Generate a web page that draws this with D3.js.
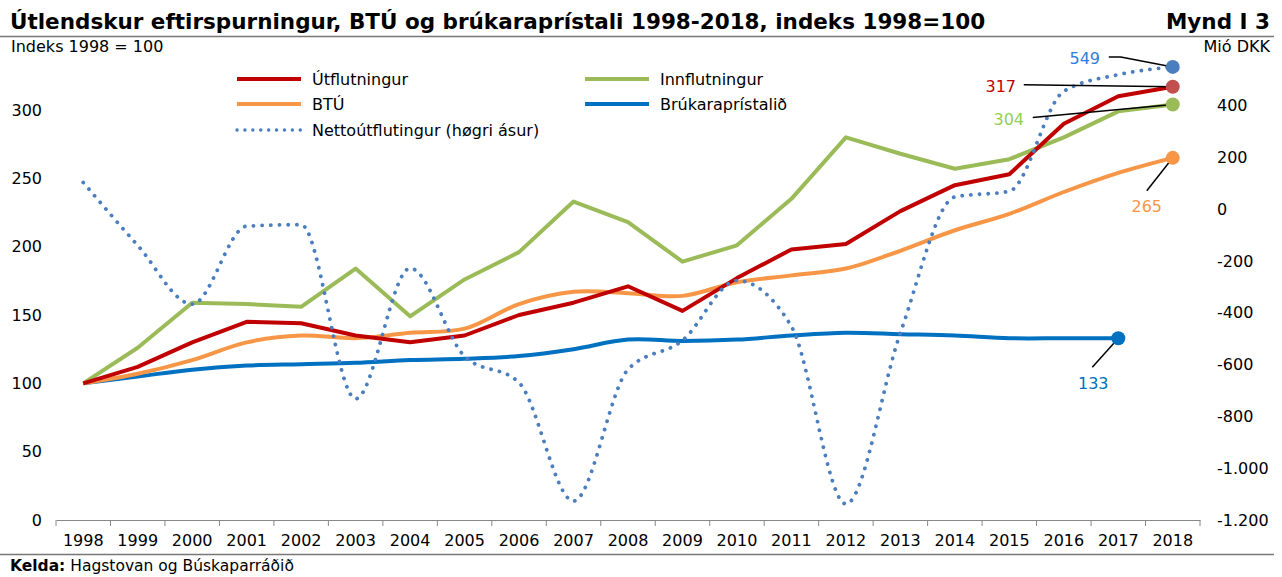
<!DOCTYPE html>
<html>
<head>
<meta charset="utf-8">
<script src="https://cdn.jsdelivr.net/npm/d3@7"></script>
<style>
  body { margin: 0; background: #fff; }
  svg { font-family: "DejaVu Sans", Verdana, sans-serif; }
</style>
</head>
<body>
<script>
// data
var years = ["1998","1999","2000","2001","2002","2003","2004","2005","2006","2007","2008",
             "2009","2010","2011","2012","2013","2014","2015","2016","2017","2018"];
var utflutningur = [100,112,130,145,144,135,130,135,150,159,171,153,177,198,202,226,245,253,290,310,317];
var innflutningur = [100,126,159,158,156,184,149,176,196,233,218,189,201,235,280,268,257,264,280,299,304];
var btu = [100,107,117,130,135,133,137,140,158,167,166,164,174,179,184,197,212,224,240,254,265];
var prisir = [100,105,110,113,114,115,117,118,120,125,132,131,132,135,137,136,135,133,133,133,null];
var netto = [103,-140,-367,-66,-60,-732,-228,-568,-670,-1127,-619,-507,-276,-453,-1138,-478,47,69,455,519,549];
var leftTicks = [0,50,100,150,200,250,300];
var rightTicks = [-1200,-1000,-800,-600,-400,-200,0,200,400];

var W = 1282, H = 577;
var FS = "16px";
var svg = d3.select("body").append("svg").attr("width", W).attr("height", H);

var x = d3.scaleBand().domain(years).range([56, 1200]).padding(0);
var cx = function(i) { return x(years[i]) + x.bandwidth() / 2; };
var yL = d3.scaleLinear().domain([0, 300]).range([520, 110]);
var yR = d3.scaleLinear().domain([-1200, 400]).range([520, 105.5]);

var loc = d3.formatLocale({decimal: ",", thousands: ".", grouping: [3], currency: ["", ""], minus: "-"});
var fmt = loc.format(",d");

// TITLE
svg.append("text").attr("x", 10).attr("y", 29)
  .attr("font-size", "21.5px").attr("font-weight", "bold")
  .text("Útlendskur eftirspurningur, BTÚ og brúkaraprístali 1998-2018, indeks 1998=100");
svg.append("text").attr("x", 1270).attr("y", 29).attr("text-anchor", "end")
  .attr("font-size", "21.5px").attr("font-weight", "bold").text("Mynd I 3");
svg.append("line").attr("x1", 0).attr("x2", 1274).attr("y1", 36.5).attr("y2", 36.5)
  .attr("stroke", "#777").attr("stroke-width", 1.3);
svg.append("text").attr("x", 11).attr("y", 52).attr("font-size", "16px").text("Indeks 1998 = 100");
svg.append("text").attr("x", 1270).attr("y", 52).attr("text-anchor", "end")
  .attr("font-size", "16px").text("Mió DKK");

// axes
var xAxis = svg.append("g").attr("transform", "translate(0,520)")
  .call(d3.axisBottom(x).tickSize(0).tickPadding(15));
xAxis.select(".domain").attr("stroke", "#888");
xAxis.selectAll("text").attr("font-size", FS).attr("font-family", "DejaVu Sans, sans-serif").attr("fill", "#000");
// ticks between categories
xAxis.selectAll(".sep").data(years.concat(["end"])).enter().append("line")
  .attr("x1", function(d, i) { return 56 + i * x.bandwidth(); })
  .attr("x2", function(d, i) { return 56 + i * x.bandwidth(); })
  .attr("y1", 0).attr("y2", 6).attr("stroke", "#888");

var lAxis = svg.append("g").attr("transform", "translate(44,0)")
  .call(d3.axisLeft(yL).tickValues(leftTicks).tickSize(0).tickPadding(2));
lAxis.select(".domain").remove();
lAxis.selectAll("text").attr("font-size", FS).attr("font-family", "DejaVu Sans, sans-serif").attr("fill", "#000");

var rAxis = svg.append("g").attr("transform", "translate(1215,0)")
  .call(d3.axisRight(yR).tickValues(rightTicks).tickSize(0).tickPadding(2).tickFormat(fmt));
rAxis.select(".domain").remove();
rAxis.selectAll("text").attr("font-size", FS).attr("font-family", "DejaVu Sans, sans-serif").attr("fill", "#000");

// series
var series = [
  {name: "Brúkaraprístalið", vals: prisir, y: yL, color: "#0070c0", curve: d3.curveCatmullRom},
  {name: "BTÚ", vals: btu, y: yL, color: "#f79646", curve: d3.curveCatmullRom},
  {name: "Innflutningur", vals: innflutningur, y: yL, color: "#9bbb59", curve: d3.curveLinear},
  {name: "Útflutningur", vals: utflutningur, y: yL, color: "#c00000", curve: d3.curveLinear},
  {name: "Nettoútflutingur (høgri ásur)", vals: netto, y: yR, color: "#4a7ebf", curve: d3.curveMonotoneX, dotted: true}
];

series.forEach(function(s) {
  var line = d3.line()
    .defined(function(d) { return d != null; })
    .x(function(d, i) { return cx(i); })
    .y(function(d) { return s.y(d); })
    .curve(s.curve);
  var p = svg.append("path").datum(s.vals)
    .attr("d", line).attr("fill", "none").attr("stroke", s.color)
    .attr("stroke-linejoin", "round");
  if (s.dotted) {
    p.attr("stroke-width", 3.8).attr("stroke-dasharray", "0.1 8.6").attr("stroke-linecap", "round");
  } else {
    p.attr("stroke-width", 4);
  }
});

// end labels with leader lines
var ends = [
  {vals: netto, y: yR, dot: "#4a7ebf", txt: "#2f7ed8", label: "549", dx: -88, dy: -8, lx: -64, ly: -10, elbow: -52},
  {vals: utflutningur, y: yL, dot: "#c0504d", txt: "#c00000", label: "317", dx: -172, dy: 0, lx: -149, ly: -2},
  {vals: innflutningur, y: yL, dot: "#9bbb59", txt: "#92d050", label: "304", dx: -164, dy: 15, lx: -140, ly: 13},
  {vals: btu, y: yL, dot: "#f79646", txt: "#f79646", label: "265", dx: -26, dy: 49, lx: -26, ly: 33},
  {vals: prisir, y: yL, dot: "#0070c0", txt: "#0070c0", label: "133", dx: -25, dy: 45, lx: -26, ly: 29}
];
ends.forEach(function(e) {
  var idx = e.vals.length - 1;
  while (e.vals[idx] == null) idx--;
  var px = cx(idx), py = e.y(e.vals[idx]);
  var pts = [[px + e.lx, py + e.ly]];
  if (e.elbow) pts.push([px + e.elbow, py + e.ly]);
  pts.push([px, py]);
  svg.append("path").attr("d", d3.line()(pts)).attr("fill", "none")
    .attr("stroke", "#000").attr("stroke-width", 1.5);
  svg.append("circle").attr("cx", px).attr("cy", py).attr("r", 7).attr("fill", e.dot);
  svg.append("text").attr("x", px + e.dx).attr("y", py + e.dy).attr("dy", "0.35em")
    .attr("text-anchor", "middle").attr("font-size", FS).attr("fill", e.txt).text(e.label);
});

// legend
var legend = [
  {name: "Útflutningur", color: "#c00000", x: 237, y: 79},
  {name: "Innflutningur", color: "#9bbb59", x: 585, y: 79},
  {name: "BTÚ", color: "#f79646", x: 237, y: 104},
  {name: "Brúkaraprístalið", color: "#0070c0", x: 585, y: 104},
  {name: "Nettoútflutingur (høgri ásur)", color: "#4a7ebf", x: 237, y: 130, dotted: true}
];
var lg = svg.append("g").selectAll("g").data(legend).enter().append("g");
lg.append("line")
  .attr("x1", function(d) { return d.x; }).attr("x2", function(d) { return d.x + 64; })
  .attr("y1", function(d) { return d.y; }).attr("y2", function(d) { return d.y; })
  .attr("stroke", function(d) { return d.color; })
  .attr("stroke-width", function(d) { return d.dotted ? 3.4 : 4; })
  .attr("stroke-dasharray", function(d) { return d.dotted ? "0.1 7.8" : null; })
  .attr("stroke-linecap", function(d) { return d.dotted ? "round" : "butt"; });
lg.append("text")
  .attr("x", function(d) { return d.x + 75; }).attr("y", function(d) { return d.y; })
  .attr("dy", "0.35em").attr("font-size", FS).text(function(d) { return d.name; });

// source
svg.append("line").attr("x1", 0).attr("x2", 1274).attr("y1", 554.5).attr("y2", 554.5)
  .attr("stroke", "#777").attr("stroke-width", 1.3);
var src = svg.append("text").attr("x", 10).attr("y", 571).attr("font-size", "15.5px");
src.append("tspan").attr("font-weight", "bold").text("Kelda:");
src.append("tspan").text(" Hagstovan og Búskaparráðið");
</script>
</body>
</html>
